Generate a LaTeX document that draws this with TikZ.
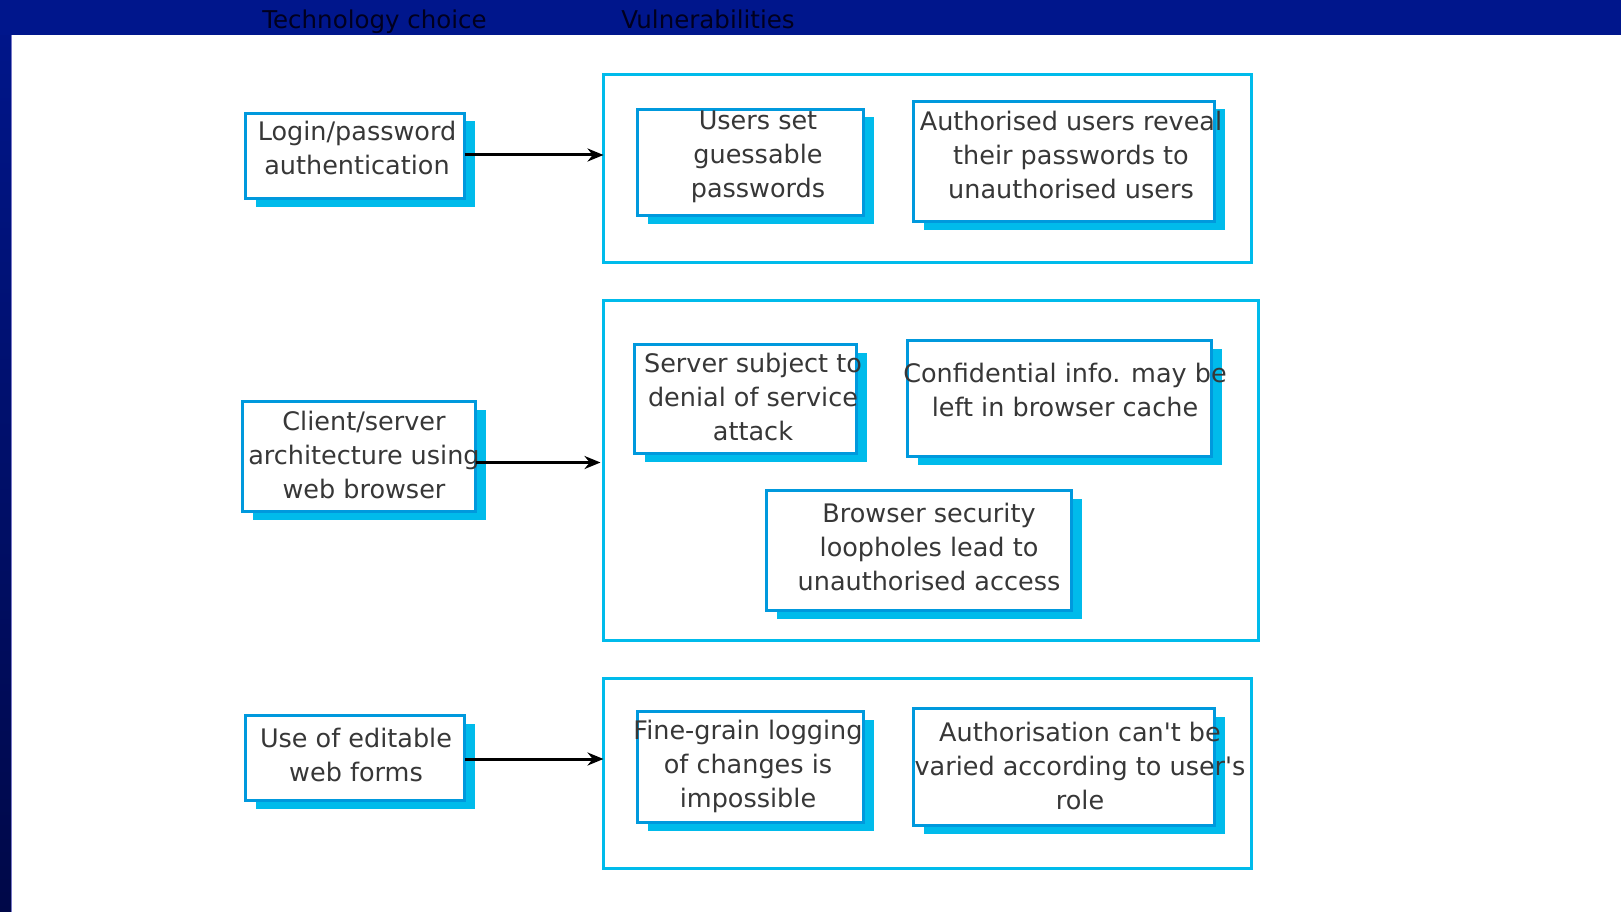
\documentclass[tikz,border=0pt]{standalone}
\usepackage{fontspec}
\setmainfont{DejaVu Sans}[Ligatures=TeXOff]
\usetikzlibrary{shadows,arrows.meta}
\definecolor{boxblue}{RGB}{0,153,221}
\definecolor{shadowcyan}{RGB}{0,187,235}
\definecolor{groupcyan}{RGB}{0,187,235}
\definecolor{bartop}{RGB}{0,22,140}
\definecolor{barbot}{RGB}{0,8,72}
\definecolor{txt}{RGB}{55,55,55}
\definecolor{headtxt}{RGB}{0,0,30}
\begin{document}
\begin{tikzpicture}[x=1pt,y=-1pt,
 itembox/.style={draw=boxblue, line width=3pt, fill=white, rectangle, inner sep=0pt, outer sep=0pt,
   drop shadow={shadow xshift=10pt, shadow yshift=-8pt, fill=shadowcyan, opacity=1}},
 groupbox/.style={draw=groupcyan, line width=2.5pt, rectangle, inner sep=0pt, outer sep=0pt},
 lbl/.style={text=txt, font=\fontsize{25.5}{34}\selectfont, align=center, inner sep=0pt},
 head/.style={text=headtxt, font=\fontsize{24.5}{28}\selectfont, inner sep=0pt, anchor=base},
 arr/.style={-{Stealth[length=16pt,width=13pt]}, line width=3pt, black}
]
\useasboundingbox (0,0) rectangle (1621,912);
\fill[white] (0,0) rectangle (1621,912);
\shade[top color=bartop, bottom color=barbot] (0,0) rectangle (11,912);
\fill[bartop] (0,0) rectangle (1621,35);
\draw[line width=1pt, color={rgb,255:red,120;green,120;blue,200}] (11.5,35) -- (11.5,912);

\node[head] (h1) at (374.5,29) {Technology choice};
\node[head] (h2) at (708,29) {Vulnerabilities};

% groups
\node[groupbox, minimum width=648pt, minimum height=188pt] (G1) at (927.5,168.5) {};
\node[groupbox, minimum width=655pt, minimum height=340pt] (G2) at (931,470.5) {};
\node[groupbox, minimum width=648pt, minimum height=190pt] (G3) at (927.5,773.5) {};

% technology boxes
\node[itembox, minimum width=219pt, minimum height=85pt] (B1) at (355,156) {};
\node[itembox, minimum width=233pt, minimum height=110pt] (B4) at (359,456.5) {};
\node[itembox, minimum width=219pt, minimum height=85pt] (B8) at (355,758) {};

% vulnerability boxes
\node[itembox, minimum width=226pt, minimum height=106pt] (B2) at (750.5,162.5) {};
\node[itembox, minimum width=301pt, minimum height=120pt] (B3) at (1064,161.5) {};
\node[itembox, minimum width=222pt, minimum height=109pt] (B5) at (745.5,399) {};
\node[itembox, minimum width=304pt, minimum height=116pt] (B6) at (1059.5,398.5) {};
\node[itembox, minimum width=305pt, minimum height=120pt] (B7) at (919,550.5) {};
\node[itembox, minimum width=226pt, minimum height=111pt] (B9) at (750.5,767) {};
\node[itembox, minimum width=301pt, minimum height=117pt] (B10) at (1064,767) {};

% labels
\node[lbl] (t1) at (357,148) {Login/password\\authentication};
\node[lbl] (t4) at (364,455) {Client/server\\architecture using\\web browser};
\node[lbl] (t8) at (356,755) {Use of editable\\web forms};
\node[lbl] (t2) at (758,157) {Users set\\guessable\\passwords};
\node[lbl] (t3) at (1071,155) {Authorised users reveal\\their passwords to\\unauthorised users};
\node[lbl] (t5) at (753,397) {Server subject to\\denial of service\\attack};
\node[lbl] (t6) at (1065,390) {Confidential info. may be\\left in browser cache};
\node[lbl] (t7) at (929,547) {Browser security\\loopholes lead to\\unauthorised access};
\node[lbl] (t9) at (748,766) {Fine-grain logging\\of changes is\\impossible};
\node[lbl] (t10) at (1080,766) {Authorisation can't be\\varied according to user's\\role};

% arrows
\draw[arr] ([yshift=1pt]B1.east) -- ([yshift=1pt]B1.east -| G1.west);
\draw[arr] ([yshift=-6pt]B4.east) -- ([yshift=-6pt,xshift=-3pt]B4.east -| G2.west);
\draw[arr] ([yshift=-1pt]B8.east) -- ([yshift=-1pt]B8.east -| G3.west);
\end{tikzpicture}
\end{document}
